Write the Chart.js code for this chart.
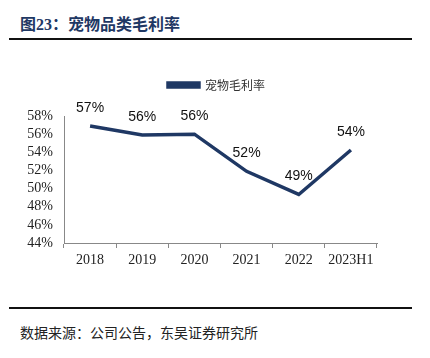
<!DOCTYPE html>
<html><head><meta charset="utf-8">
<script src="https://cdn.jsdelivr.net/npm/chart.js@4/dist/chart.umd.min.js"></script>
<style>
html,body{margin:0;padding:0;background:#fff;width:430px;height:358px;overflow:hidden;position:relative;}
#title{position:absolute;left:20px;top:11px;font-family:"Liberation Serif","Noto Sans CJK SC",serif;font-weight:bold;font-size:16px;color:#1f3864;white-space:nowrap;}
#title .cn{font-family:"Noto Sans CJK SC",sans-serif;}
.rule{position:absolute;left:9px;width:403px;height:2px;background:#111;}
#src{position:absolute;left:20px;top:322px;font-family:"Noto Sans CJK SC",sans-serif;font-size:14px;color:#222;white-space:nowrap;}
#wrap{position:absolute;left:0;top:0;width:430px;height:358px;}
</style></head>
<body>
<div id="title">图23：<span class="cn">宠物品类毛利率</span></div>
<div class="rule" style="top:38px"></div>
<div class="rule" style="top:307px"></div>
<div id="src">数据来源：公司公告，东吴证券研究所</div>
<div id="wrap"><canvas id="c" width="430" height="358"></canvas></div>
<script>
const categories = ["2018","2019","2020","2021","2022","2023H1"];
const grossMargin = [56.9, 55.9, 56.0, 51.9, 49.35, 54.25];
const pointLabels = ["57%","56%","56%","52%","49%","54%"];
const seriesName = "宠物毛利率";
const yTicks = [44,46,48,50,52,54,56,58];

const labelPlugin = {
  id:'ptlabels',
  afterDatasetsDraw(chart){
    const ctx = chart.ctx;
    const meta = chart.getDatasetMeta(0);
    ctx.save();
    ctx.font = '14px "Liberation Sans", Arial, sans-serif';
    ctx.fillStyle = '#111';
    ctx.textAlign = 'center';
    ctx.textBaseline = 'middle';
    meta.data.forEach((p,i)=>{ ctx.fillText(pointLabels[i], p.x, p.y-18); });
    ctx.restore();
  }
};
const legendGap = {
  id:'legendGap',
  beforeInit(chart){
    const orig = chart.legend.fit;
    chart.legend.fit = function(){ orig.bind(chart.legend)(); this.height += 15; };
  },
  afterLayout(chart){
    chart.legend.left += 28;
    chart.legend.right += 28;
  }
};

new Chart(document.getElementById('c'),{
  type:'line',
  data:{labels:categories,datasets:[{label:seriesName,data:grossMargin,borderColor:'#1f3864',backgroundColor:'#1f3864',borderWidth:3.5,pointRadius:0,tension:0,fill:false}]},
  options:{
    responsive:false,animation:false,
    layout:{padding:{left:0,right:53,top:75,bottom:85}},
    plugins:{
      legend:{display:true,position:'top',labels:{boxWidth:31,boxHeight:4,padding:4,color:'#333',font:{family:'"Noto Sans CJK SC", sans-serif',size:12}}},
      tooltip:{enabled:false}
    },
    scales:{
      x:{offset:true,
        grid:{display:true,drawOnChartArea:false,drawTicks:true,tickLength:5,offset:true,color:'#888'},
        border:{display:true,color:'#888',width:1},
        ticks:{color:'#222',font:{family:'"Liberation Serif", serif',size:14},padding:4,maxRotation:0,autoSkip:false},
        afterFit(s){s.height=30;}
      },
      y:{min:44,max:58,
        afterBuildTicks(s){s.ticks=yTicks.map(v=>({value:v}));},
        grid:{display:false,drawTicks:false},
        border:{display:true,color:'#888',width:1},
        ticks:{color:'#222',font:{family:'"Liberation Serif", serif',size:14},padding:11,autoSkip:false,callback:v=>v+'%'},
        afterFit(s){s.width=64;}
      }
    }
  },
  plugins:[labelPlugin, legendGap]
});
</script>
</body></html>
